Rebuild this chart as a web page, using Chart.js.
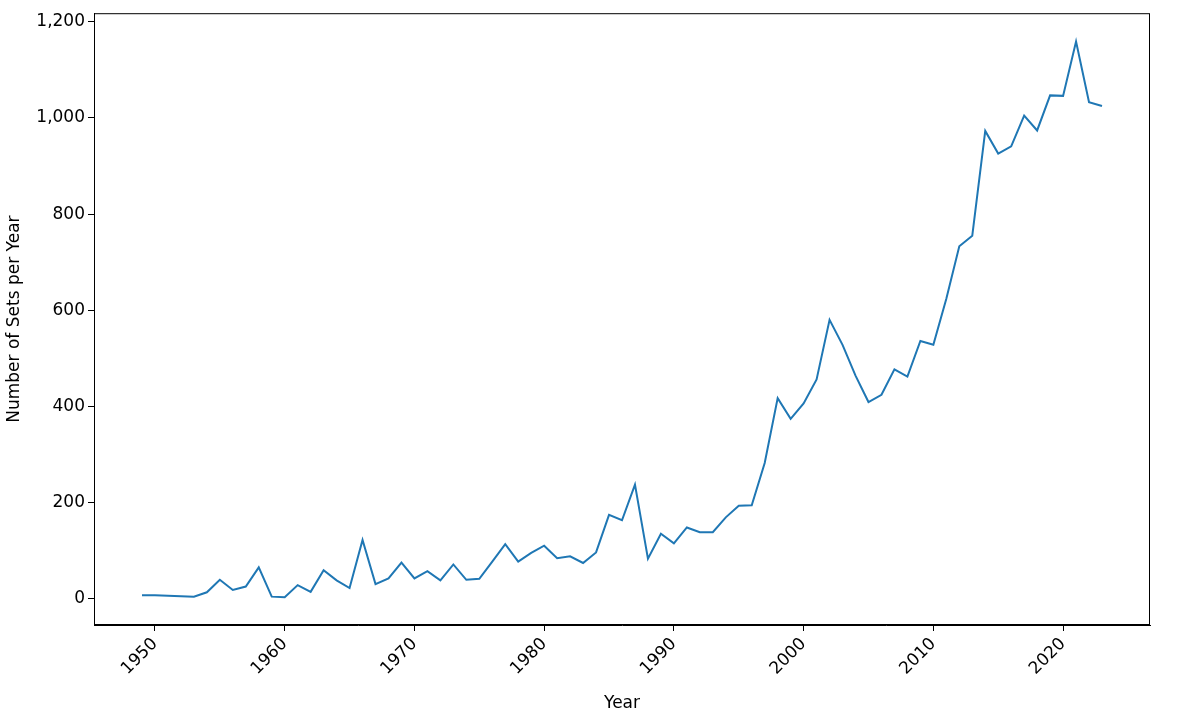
<!DOCTYPE html>
<html>
<head>
<meta charset="utf-8">
<script src="https://cdn.jsdelivr.net/npm/chart.js@4"></script>
<style>
  html, body { margin: 0; padding: 0; background: #fff; }
</style>
</head>
<body>
<canvas id="chart" width="1188" height="718"></canvas>
<script>
var years = [1949, 1950, 1953, 1954, 1955, 1956, 1957, 1958, 1959, 1960,
    1961, 1962, 1963, 1964, 1965, 1966, 1967, 1968, 1969, 1970,
    1971, 1972, 1973, 1974, 1975, 1976, 1977, 1978, 1979, 1980,
    1981, 1982, 1983, 1984, 1985, 1986, 1987, 1988, 1989, 1990,
    1991, 1992, 1993, 1994, 1995, 1996, 1997, 1998, 1999, 2000,
    2001, 2002, 2003, 2004, 2005, 2006, 2007, 2008, 2009, 2010,
    2011, 2012, 2013, 2014, 2015, 2016, 2017, 2018, 2019, 2020,
    2021, 2022, 2023];
var setsPerYear = [7, 7, 4, 13, 39, 18, 25, 65, 4, 3,
    28, 14, 59, 38, 22, 122, 30, 42, 75, 42,
    57, 38, 71, 39, 41, 77, 113, 77, 95, 110,
    84, 88, 74, 96, 174, 163, 237, 83, 135, 115,
    148, 138, 138, 169, 193, 194, 282, 417, 374, 406,
    456, 580, 528, 464, 409, 424, 477, 462, 536, 528,
    624, 733, 755, 973, 926, 941, 1005, 974, 1047, 1046,
    1159, 1033, 1025];
var xTicks = [1950, 1960, 1970, 1980, 1990, 2000, 2010, 2020];
var yTicks = [0, 200, 400, 600, 800, 1000, 1200];

var points = years.map(function (y, i) { return {x: y, y: setsPerYear[i]}; });
var font = {family: 'DejaVu Sans', size: 17};

var frame = {
    id: 'frame',
    afterDraw: function (chart) {
        var a = chart.chartArea, ctx = chart.ctx;
        ctx.save();
        ctx.strokeStyle = '#000';
        ctx.lineWidth = 1;
        ctx.strokeRect(a.left + 0.5, a.top + 0.5, a.right - a.left - 1, a.bottom - a.top - 1);
        ctx.restore();
    }
};

new Chart(document.getElementById('chart').getContext('2d'), {
    type: 'line',
    data: {
        datasets: [{
            data: points,
            borderColor: '#1f77b4',
            borderWidth: 2,
            pointRadius: 0,
            tension: 0
        }]
    },
    options: {
        responsive: false,
        animation: false,
        devicePixelRatio: 1,
        layout: {padding: {top: 10, right: 38, left: 0, bottom: 0}},
        plugins: {legend: {display: false}, tooltip: {enabled: false}},
        scales: {
            x: {
                type: 'linear',
                min: 1945.3,
                max: 2026.7,
                afterBuildTicks: function (s) { s.ticks = xTicks.map(function (v) { return {value: v}; }); },
                afterFit: function (s) { s.height = 93; },
                grid: {drawOnChartArea: false, tickLength: 6, tickColor: '#000'},
                border: {color: '#000'},
                ticks: {color: '#000', font: font, maxRotation: 45, minRotation: 45, callback: function (v) { return String(v); }},
                title: {display: true, text: 'Year', color: '#000', font: font, padding: {top: 0}}
            },
            y: {
                min: -55,
                max: 1218,
                afterBuildTicks: function (s) { s.ticks = yTicks.map(function (v) { return {value: v}; }); },
                afterFit: function (s) { s.width = 94; },
                grid: {drawOnChartArea: false, tickLength: 6, tickColor: '#000'},
                border: {color: '#000'},
                ticks: {color: '#000', font: font},
                title: {display: true, text: 'Number of Sets per Year', color: '#000', font: font}
            }
        }
    },
    plugins: [frame]
});
</script>
</body>
</html>
